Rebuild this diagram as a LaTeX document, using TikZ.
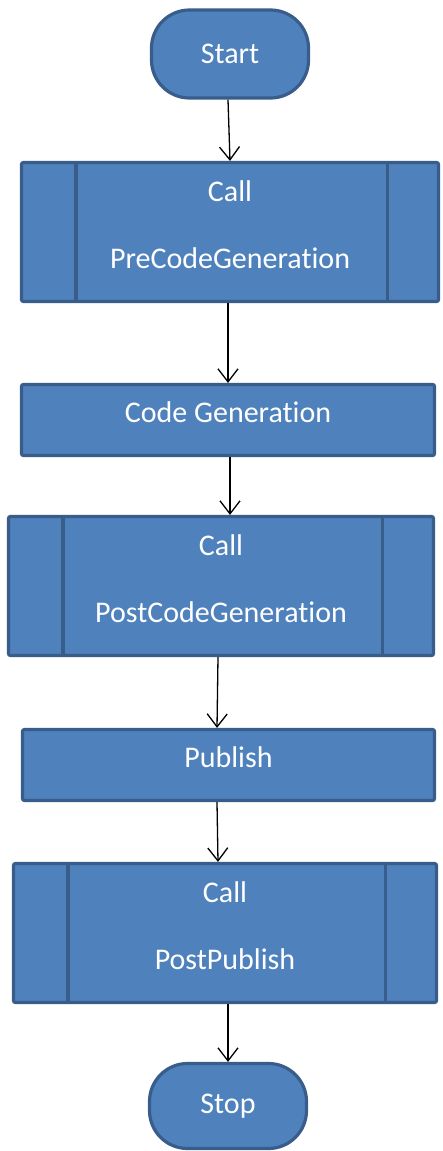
\documentclass[tikz,border=0pt]{standalone}
\usepackage{fontspec}
\setmainfont{Carlito}[Ligatures=NoCommon]
\usetikzlibrary{arrows.meta}
\definecolor{boxfill}{HTML}{4F81BD}
\definecolor{boxline}{HTML}{385D8A}
\tikzset{
  shapebase/.style={draw=boxline, fill=boxfill, line width=3.2pt, text=white,
    font=\fontsize{30}{67}\selectfont, inner sep=0pt, align=center},
  terminal/.style={shapebase, rounded corners=38pt},
  process/.style={shapebase, rounded corners=2pt, text depth=15pt},
  sideline/.style={draw=boxline, line width=3.2pt},
  flow/.style={-{Straight Barb[length=13pt,width=20pt,line width=1.3pt]},
    line width=1.3pt, black},
}
\begin{document}
\begin{tikzpicture}[x=1pt,y=-1pt]
\useasboundingbox (0,0) rectangle (442,1151);

% steps of the flow
\node[terminal, minimum width=157pt, minimum height=88pt] (start) at (230,54) {Start};
\node[process, minimum width=417pt, minimum height=139pt] (pre) at (230,232) {Call\\PreCodeGeneration};
\node[process, minimum width=413pt, minimum height=71pt] (code) at (228,420) {Code Generation};
\node[process, minimum width=425pt, minimum height=139pt] (post) at (221,586) {Call\\PostCodeGeneration};
\node[process, minimum width=412pt, minimum height=71pt] (pub) at (228.5,765) {Publish};
\node[process, minimum width=423pt, minimum height=139pt] (pp) at (225,933) {Call\\PostPublish};
\node[terminal, minimum width=157pt, minimum height=85pt] (stop) at (228,1106) {Stop};

% side bars of the predefined-process boxes
\foreach \n in {pre,post,pp}{
  \draw[sideline] ([xshift=56pt]\n.north west) -- ([xshift=56pt]\n.south west);
  \draw[sideline] ([xshift=-53pt]\n.north east) -- ([xshift=-53pt]\n.south east);
}

% connectors
\draw[flow] ([xshift=-2pt]start.south) -- (pre.north);
\draw[flow] ([xshift=-2pt]pre.south) -- (code.north);
\draw[flow] ([xshift=2pt]code.south) -- ([xshift=9pt]post.north);
\draw[flow] ([xshift=-3pt]post.south) -- ([xshift=-11.5pt]pub.north);
\draw[flow] ([xshift=-11.5pt]pub.south) -- ([xshift=-7pt]pp.north);
\draw[flow] ([xshift=3pt]pp.south) -- (stop.north);
\end{tikzpicture}
\end{document}
